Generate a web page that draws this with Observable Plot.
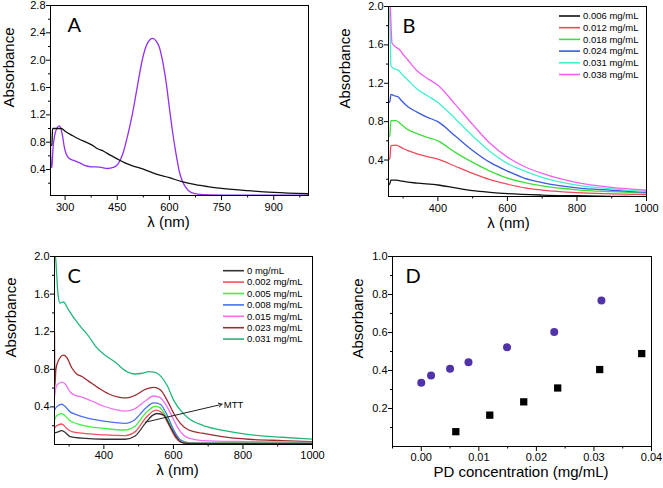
<!DOCTYPE html>
<html><head><meta charset="utf-8">
<script src="https://cdn.jsdelivr.net/npm/d3@7"></script>
<script src="https://cdn.jsdelivr.net/npm/@observablehq/plot@0.6"></script>
<style>
body{margin:0;background:#fff;}
#wrap{position:relative;width:663px;height:488px;background:#fff;overflow:hidden;}
.panel{position:absolute;}
</style></head><body><div id="wrap"></div>
<script>
// ---------- Panel A data: [wavelength nm, absorbance] ----------
const aPD = [[258,0.75],[262,0.76],[264,1.0],[268,1.0],[280,1.0],[289,1.0],[300,0.96],[320,0.90],[338,0.85],[360,0.80],[375,0.765],[395,0.70],[411,0.667],[430,0.61],[450,0.555],[469,0.505],[490,0.46],[525,0.405],[560,0.335],[600,0.28],[636,0.222],[675,0.178],[710,0.15],[750,0.124],[825,0.09],[900,0.065],[1000,0.046]];
const aMTT = [[258,0.72],[260,0.45],[262,0.43],[265,0.7],[270,0.9],[276,1.0],[283,1.04],[288,1.0],[293,0.88],[298,0.72],[303,0.63],[312,0.56],[327,0.53],[341,0.5],[356,0.46],[375,0.44],[399,0.435],[423,0.415],[438,0.43],[452,0.48],[466,0.63],[481,0.92],[495,1.25],[510,1.68],[524,2.05],[538,2.26],[552,2.32],[562,2.28],[571,2.19],[581,1.97],[591,1.66],[600,1.3],[610,0.92],[619,0.63],[629,0.36],[638,0.22],[648,0.13],[662,0.065],[681,0.04],[720,0.03],[800,0.025],[900,0.025],[1000,0.03]];

// ---------- Panel B data ----------
const bLabels = ["0.006 mg/mL","0.012 mg/mL","0.018 mg/mL","0.024 mg/mL","0.031 mg/mL","0.038 mg/mL"];
const bColors = ["#111111","#f04a5a","#3adf3a","#3a5adf","#40f0d0","#f060f0"];
const b006 = [[258,0.14],[262,0.155],[265,0.19],[280,0.19],[295,0.18],[340,0.16],[400,0.14],[450,0.11],[500,0.082],[550,0.064],[600,0.05],[700,0.035],[800,0.028],[900,0.022],[1000,0.017]];
const b012 = [[258,0.40],[262,0.42],[265,0.55],[280,0.555],[295,0.53],[312,0.5],[340,0.465],[370,0.435],[400,0.41],[450,0.335],[500,0.26],[550,0.195],[600,0.148],[650,0.11],[700,0.087],[800,0.06],[900,0.048],[1000,0.04]];
const b018 = [[258,0.64],[262,0.66],[265,0.81],[280,0.81],[295,0.77],[312,0.72],[340,0.675],[370,0.635],[400,0.6],[450,0.48],[500,0.375],[550,0.285],[600,0.212],[650,0.165],[700,0.13],[800,0.09],[900,0.07],[1000,0.055]];
const b024 = [[258,1.0],[262,1.01],[265,1.085],[275,1.07],[285,1.06],[295,1.02],[312,0.96],[340,0.9],[370,0.845],[400,0.8],[450,0.65],[500,0.5],[550,0.375],[600,0.285],[650,0.21],[700,0.165],[800,0.11],[900,0.085],[1000,0.062]];
const b031 = [[258,2.0],[262,1.85],[265,1.38],[275,1.35],[285,1.34],[295,1.3],[312,1.24],[340,1.14],[370,1.07],[400,1.0],[450,0.83],[500,0.65],[550,0.49],[600,0.365],[650,0.285],[700,0.22],[800,0.138],[900,0.1],[1000,0.072]];
const b038 = [[258,2.1],[263,2.0],[268,1.62],[278,1.58],[290,1.55],[300,1.5],[312,1.45],[340,1.33],[370,1.25],[400,1.18],[450,0.98],[500,0.77],[550,0.575],[600,0.43],[650,0.33],[700,0.26],[800,0.165],[900,0.115],[1000,0.085]];

// ---------- Panel C data ----------
const cLabels = ["0 mg/mL","0.002 mg/mL","0.005 mg/mL","0.008 mg/mL","0.015 mg/mL","0.023 mg/mL","0.031 mg/mL"];
const cColors = ["#333333","#f05060","#40f040","#4a70f0","#f070f0","#a02a30","#20b878"];
const c000 = [[258,0.126],[264,0.13],[279,0.147],[288,0.13],[303,0.084],[337,0.067],[400,0.056],[461,0.056],[490,0.091],[519,0.225],[540,0.31],[553,0.33],[572,0.312],[591,0.19],[611,0.067],[630,0.014],[660,0.008],[1000,0.008]];
const c002 = [[258,0.172],[264,0.2],[279,0.218],[293,0.172],[308,0.137],[337,0.12],[400,0.102],[461,0.095],[490,0.137],[519,0.277],[550,0.365],[567,0.337],[587,0.207],[606,0.074],[625,0.021],[660,0.012],[1000,0.012]];
const c005 = [[258,0.26],[264,0.305],[279,0.33],[288,0.305],[303,0.253],[337,0.207],[400,0.172],[461,0.154],[490,0.196],[519,0.33],[548,0.407],[562,0.39],[582,0.277],[601,0.12],[620,0.032],[644,0.014],[1000,0.014]];
const c008 = [[258,0.365],[264,0.40],[279,0.428],[288,0.407],[303,0.347],[317,0.323],[356,0.277],[400,0.249],[433,0.232],[461,0.225],[490,0.267],[519,0.382],[543,0.442],[562,0.428],[582,0.312],[601,0.154],[620,0.05],[644,0.021],[700,0.018],[1000,0.015]];
const c015 = [[258,0.505],[264,0.628],[279,0.663],[288,0.646],[303,0.558],[317,0.523],[337,0.505],[365,0.463],[400,0.407],[433,0.372],[461,0.354],[490,0.382],[519,0.463],[543,0.516],[562,0.498],[582,0.4],[601,0.26],[620,0.137],[644,0.067],[683,0.042],[817,0.031],[1000,0.021]];
const c023 = [[258,1.2],[259,0.62],[262,0.8],[269,0.89],[284,0.95],[293,0.926],[308,0.814],[322,0.75],[337,0.723],[356,0.674],[385,0.6],[413,0.54],[442,0.505],[466,0.495],[490,0.523],[519,0.586],[543,0.607],[562,0.582],[582,0.47],[601,0.33],[620,0.225],[644,0.154],[683,0.12],[740,0.084],[817,0.056],[913,0.042],[1000,0.031]];
const c031 = [[258,2.1],[262,1.95],[268,1.6],[274,1.505],[284,1.516],[298,1.435],[317,1.33],[337,1.235],[356,1.154],[375,1.05],[400,0.96],[433,0.874],[461,0.786],[490,0.75],[510,0.758],[529,0.775],[545,0.77],[562,0.733],[582,0.628],[601,0.47],[620,0.365],[644,0.277],[683,0.207],[721,0.165],[779,0.126],[837,0.098],[913,0.077],[1000,0.056]];
const mttArrow = [{x1: 519, y1: 0.237, x2: 740, y2: 0.428}];
const mttLabel = [{x: 745, y: 0.42, t: "MTT"}];

// ---------- Panel D data ----------
const dCircleConc = [0, 0.0017, 0.005, 0.0082, 0.0149, 0.0231, 0.0313];
const dCircleAbs  = [0.336, 0.374, 0.409, 0.443, 0.522, 0.603, 0.769];
const dSquareConc = [0.006, 0.0119, 0.0178, 0.0237, 0.031, 0.0383];
const dSquareAbs  = [0.078, 0.165, 0.235, 0.308, 0.405, 0.489];

// ---------- Tick values ----------
const aXMajor = [300,450,600,750,900], aXMinor = [375,525,675,825,975];
const aYMajor = [0.4,0.8,1.2,1.6,2.0,2.4,2.8], aYMinor = [0.2,0.6,1.0,1.4,1.8,2.2,2.6];
const bcXMajor = [400,600,800,1000], bcXMinor = [300,500,700,900];
const bcYMajor = [0.4,0.8,1.2,1.6,2.0], bcYMinor = [0.2,0.6,1.0,1.4,1.8];
const dXMajor = [0,0.01,0.02,0.03,0.04], dXMinor = [-0.005,0.005,0.015,0.025,0.035];
const dYMajor = [0.2,0.4,0.6,0.8,1.0], dYMinor = [0.1,0.3,0.5,0.7,0.9];

const FONT = "'Liberation Sans', Arial, sans-serif";
const wrap = document.getElementById("wrap");

function axes(o) {
  return [
    Plot.frame({stroke: "#000", strokeWidth: 1}),
    Plot.axisX(o.xMajor, {tickSize: 5, tickPadding: o.xPad ?? 3, tickFormat: o.xFmt, label: null, fontSize: 11}),
    Plot.axisX(o.xMinor, {tickSize: 2.5, tickFormat: () => "", label: null}),
    Plot.axisY(o.yMajor, {tickSize: 4, tickPadding: 1, tickFormat: d => d.toFixed(1), label: null, fontSize: 11}),
    Plot.axisY(o.yMinor, {tickSize: 2, tickFormat: () => "", label: null}),
    Plot.text([o.xLabel], {text: d => d, frameAnchor: "bottom", dx: o.xLabelDx, dy: o.xLabelDy, fontSize: 15}),
    Plot.text(["Absorbance"], {text: d => d, frameAnchor: "left", dx: o.yLabelDx, dy: 7, rotate: -90, fontSize: 15}),
    Plot.text([o.letter], {text: d => d, frameAnchor: "top-left", dx: o.letterDx, dy: 12, lineAnchor: "top", fontSize: 20, fontFamily: "Lato, 'Open Sans', sans-serif"})
  ];
}

function place(svg, left, top) {
  const d = document.createElement("div");
  d.className = "panel";
  d.style.left = left + "px"; d.style.top = top + "px";
  d.appendChild(svg);
  wrap.appendChild(d);
}

function legend(svg, labels, colors, x0, y0, step) {
  const g = d3.select(svg).append("g").attr("font-family", FONT).attr("font-size", 9.5)
    .attr("fill", "#000").attr("text-anchor", "start");
  labels.forEach((lab, i) => {
    const y = y0 + i * step;
    g.append("line").attr("x1", x0).attr("x2", x0 + 21).attr("y1", y).attr("y2", y)
      .attr("stroke", colors[i]).attr("stroke-width", 1.6);
    g.append("text").attr("x", x0 + 24).attr("y", y).attr("dy", "0.35em").attr("text-anchor", "start").text(lab);
  });
}

const lineOpts = (color) => ({x: d => d[0], y: d => d[1], stroke: color, strokeWidth: 1.3, curve: "monotone-x", clip: true});

// Panel A
const svgA = Plot.plot({
  width: 330, height: 240, marginLeft: 50, marginRight: 22, marginTop: 5, marginBottom: 45,
  style: {fontFamily: FONT, fontSize: "11px", color: "#000", background: "transparent"},
  x: {domain: [258, 1000], axis: null},
  y: {domain: [0.02, 2.8], axis: null},
  marks: [
    Plot.line(aMTT, lineOpts("#9430f0")),
    Plot.line(aPD, lineOpts("#111111")),
    ...axes({xMajor: aXMajor, xMinor: aXMinor, yMajor: aYMajor, yMinor: aYMinor, xFmt: d => String(d),
      xLabel: "λ (nm)", xLabelDx: -11, xLabelDy: 31, yLabelDx: -41, letter: "A", letterDx: 17})
  ]
});
place(svgA, 0, 0);

// Panel B
const bSeries = [b006, b012, b018, b024, b031, b038];
const svgB = Plot.plot({
  width: 333, height: 240, marginLeft: 58, marginRight: 17, marginTop: 6, marginBottom: 44,
  style: {fontFamily: FONT, fontSize: "11px", color: "#000", background: "transparent"},
  x: {domain: [258, 1000], axis: null},
  y: {domain: [0.02, 2.0], axis: null},
  marks: [
    ...bSeries.map((s, i) => Plot.line(s, lineOpts(bColors[i]))),
    ...axes({xMajor: bcXMajor, xMinor: bcXMinor, yMajor: bcYMajor, yMinor: bcYMinor, xFmt: d => String(d),
      xLabel: "λ (nm)", xLabelDx: -9, xLabelDy: 31, yLabelDx: -43, letter: "B", letterDx: 14})
  ]
});
legend(svgB, bLabels, bColors, 229, 16, 11.7);
place(svgB, 330, 0);

// Panel C
const cSeries = [c000, c002, c005, c008, c015, c023, c031];
const svgC = Plot.plot({
  width: 330, height: 248, marginLeft: 54, marginRight: 18, marginTop: 16, marginBottom: 44,
  style: {fontFamily: FONT, fontSize: "11px", color: "#000", background: "transparent"},
  x: {domain: [258, 1000], axis: null},
  y: {domain: [0, 2.0], axis: null},
  marks: [
    ...cSeries.map((s, i) => Plot.line(s, lineOpts(cColors[i]))).reverse(),
    Plot.arrow(mttArrow, {x1: "x1", y1: "y1", x2: "x2", y2: "y2", stroke: "#222", strokeWidth: 1, headLength: 6}),
    Plot.text(mttLabel, {x: "x", y: "y", text: "t", textAnchor: "start", fontSize: 9.5}),
    ...axes({xMajor: bcXMajor, xMinor: bcXMinor, yMajor: bcYMajor, yMinor: bcYMinor, xFmt: d => String(d), xPad: 2,
      xLabel: "λ (nm)", xLabelDx: -6, xLabelDy: 30, yLabelDx: -43, letter: "C", letterDx: 13})
  ]
});
legend(svgC, cLabels, cColors, 223, 30.7, 11.4);
place(svgC, 0, 240);

// Panel D
const circles = dCircleConc.map((x, i) => ({x, y: dCircleAbs[i]}));
const squares = dSquareConc.map((x, i) => ({x, y: dSquareAbs[i]}));
const svgD = Plot.plot({
  width: 333, height: 248, marginLeft: 62, marginRight: 12, marginTop: 16, marginBottom: 42,
  style: {fontFamily: FONT, fontSize: "11px", color: "#000", background: "transparent"},
  x: {domain: [-0.005, 0.04], axis: null},
  y: {domain: [0, 1.0], axis: null},
  marks: [
    Plot.dot(circles, {x: "x", y: "y", r: 4, fill: "#5033a8", symbol: "circle"}),
    Plot.dot(squares, {x: "x", y: "y", r: 4.1, fill: "#000", symbol: "square"}),
    ...axes({xMajor: dXMajor, xMinor: dXMinor, yMajor: dYMajor, yMinor: dYMinor, xFmt: d => d.toFixed(2), xPad: 2,
      xLabel: "PD concentration (mg/mL)", xLabelDx: -1, xLabelDy: 30, yLabelDx: -34.5, letter: "D", letterDx: 13})
  ]
});
place(svgD, 330, 240);
</script>
</body></html>
